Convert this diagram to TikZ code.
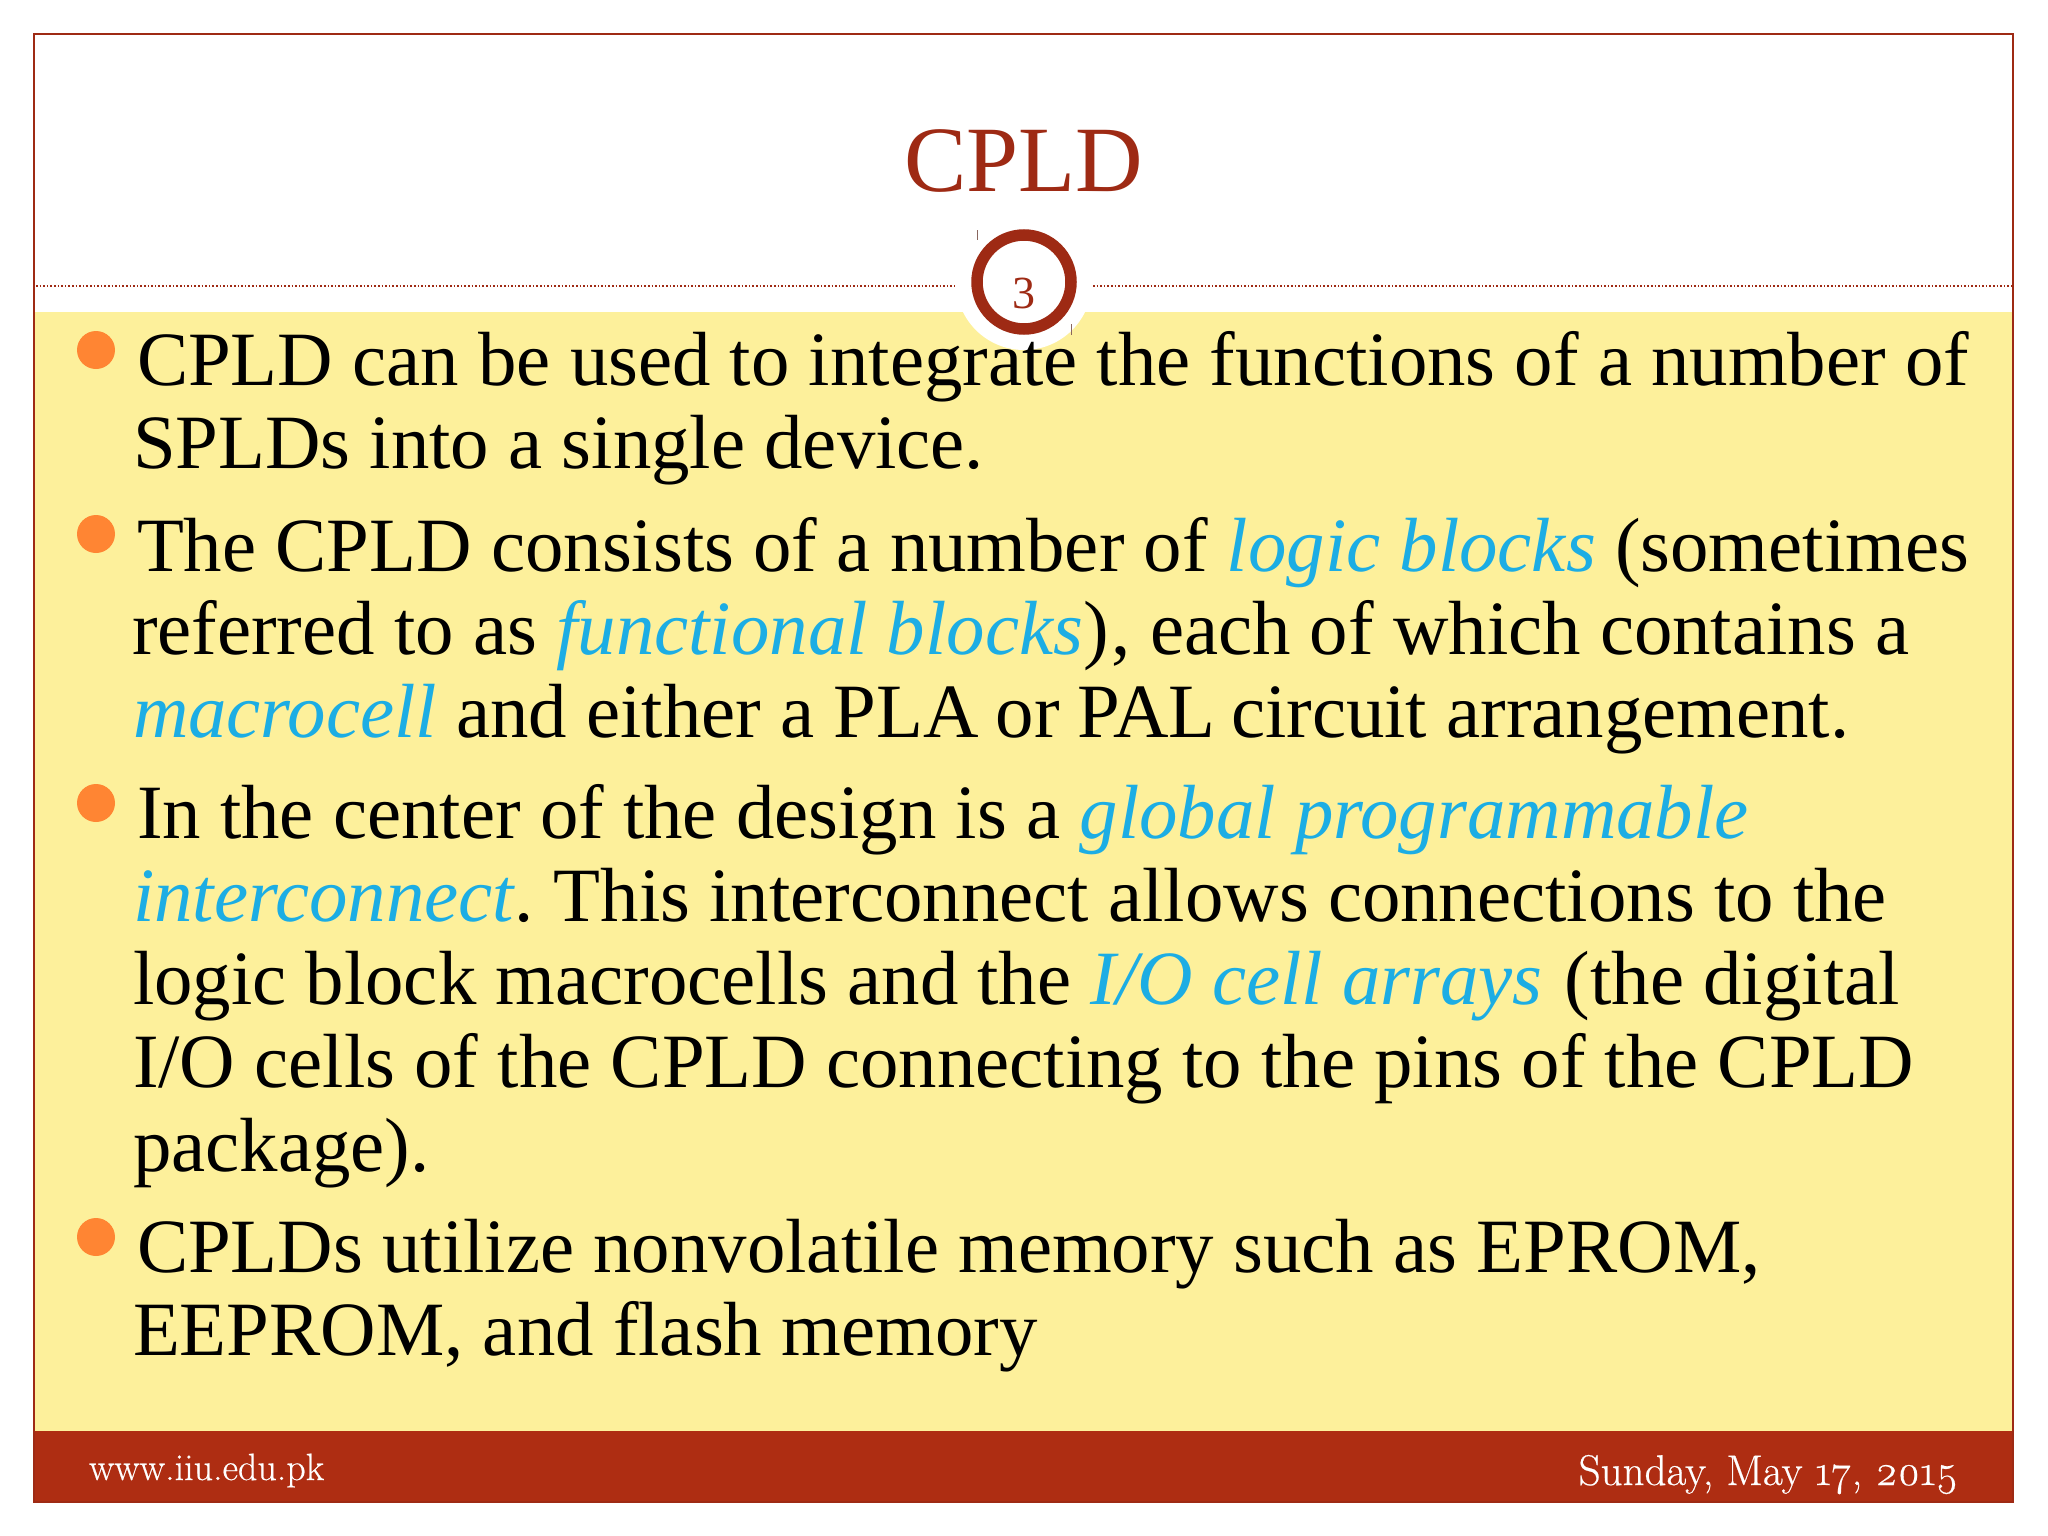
\documentclass[tikz,border=0pt]{standalone}
\usepackage{fontspec}
\setmainfont{Liberation Serif}
\newfontfamily\footfont[Numbers=OldStyle,RawFeature={embolden=0.5}]{Latin Modern Roman}
\definecolor{paleyellow}{HTML}{FDF09B}
\definecolor{bandred}{HTML}{AE2D12}
\definecolor{ringred}{HTML}{9E2A14}
\definecolor{linkblue}{HTML}{1CADE4}
\definecolor{dotorange}{HTML}{FF8533}
\newcommand{\hl}[1]{{\itshape\color{linkblue}#1}}
\tikzset{
  x=1pt,y=-1pt,
  bodyline/.style={anchor=base west,inner sep=0pt,outer sep=0pt,text=black,font=\fontsize{76.8}{80}\selectfont},
  bulletdot/.style={circle,fill=dotorange,minimum size=38pt,inner sep=0pt},
  foottext/.style={inner sep=0pt,outer sep=0pt,text=white},
}
\begin{document}
\begin{tikzpicture}
\useasboundingbox (0,0) rectangle (2048,1536);
\fill[white] (0,0) rectangle (2048,1536);
\fill[paleyellow] (34,312) rectangle (2013,1431);
\fill[bandred] (34,1431) rectangle (2013,1502);
\draw[ringred,line width=2pt] (34,34) rectangle (2013,1502);
\draw[ringred,line width=1.6pt,dotted] (36,286) -- (955,286);
\draw[ringred,line width=1.6pt,dotted] (1093,286) -- (2012,286);
\fill[white] (1024,282) circle[radius=68];
\draw[gray!70!ringred,line width=0.7pt] (977,230) -- (977,240);
\draw[gray!70!ringred,line width=0.7pt] (1071,324) -- (1071,335);
\draw[ringred,line width=11.5pt] (1024,282) circle[radius=47];
\node[inner sep=0pt,text=ringred,font=\fontsize{46}{48}\selectfont,anchor=base] (num) at (1024,308) {3};
\node[inner sep=0pt,anchor=base,text=ringred,font=\fontsize{93.5}{96}\selectfont] (title) at (1024,191) {CPLD};
\node[bulletdot] (b1) at (96,350) {};
\node[bulletdot] (b2) at (96,534) {};
\node[bulletdot] (b3) at (96,803) {};
\node[bulletdot] (b4) at (96,1237) {};
\node[bodyline] (l1) at (137,385) {CPLD can be used to integrate the functions of a number of};
\node[bodyline] (l2) at (133,468) {SPLDs into a single device.};
\node[bodyline] (l3) at (137,571) {The CPLD consists of a number of \hl{logic blocks} (sometimes};
\node[bodyline] (l4) at (132,654) {referred to as \hl{functional blocks})\kern3pt, each of which contains a};
\node[bodyline] (l5) at (133,737) {\hl{macrocell} and either a PLA\kern-2.5pt{} or\kern-1pt{} PAL\kern-4pt{} circuit arrangement.};
\node[bodyline] (l6) at (137,838) {In the center of the design is a \hl{global programmable}};
\node[bodyline] (l7) at (133,921) {\hl{interconnect}.\kern-5pt{} This interconnect allows connections to the};
\node[bodyline] (l8) at (133,1004) {logic block macrocells and the \hl{I/O cell arrays}\kern3pt{} (the digital};
\node[bodyline] (l9) at (133,1087) {I/O cells of the CPLD connecting to the pins of the CPLD};
\node[bodyline] (l10) at (133,1171) {package).};
\node[bodyline] (l11) at (137,1272) {CPLDs utilize nonvolatile memory such as EPROM,};
\node[bodyline] (l12) at (133,1355) {EEPROM, and flash memory};
\node[foottext,anchor=base west,font=\footfont\fontsize{38}{44}\selectfont] (web) at (89,1480) {www.iiu.edu.pk};
\node[foottext,anchor=base east,font=\footfont\fontsize{43}{46}\selectfont] (date) at (1958,1485) {Sunday, May 17, 2015};
\end{tikzpicture}
\end{document}
